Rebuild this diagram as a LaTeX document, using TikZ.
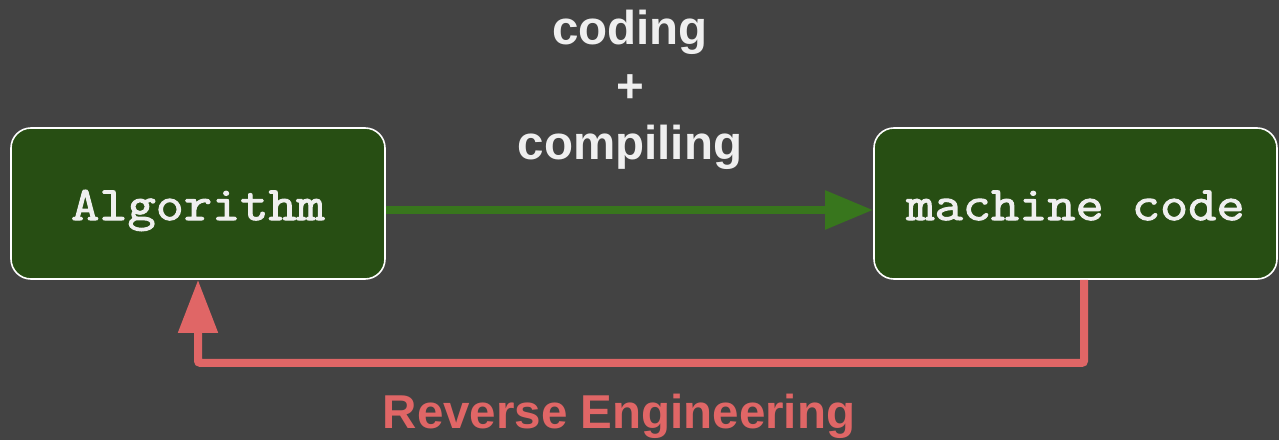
\documentclass[tikz,border=0pt]{standalone}
\usepackage{fontspec}
\setmainfont{Liberation Sans}
\newfontfamily\codefont[FakeStretch=1.14,FakeBold=2.2]{Latin Modern Mono}
\usetikzlibrary{arrows.meta, positioning}
\definecolor{bgGray}{HTML}{434343}
\definecolor{boxGreen}{HTML}{274E13}
\definecolor{lineGreen}{HTML}{38761D}
\definecolor{revRed}{HTML}{E06666}
\definecolor{lightText}{HTML}{EFEFEF}
\tikzset{
  codebox/.style={
    rectangle, rounded corners=20pt, draw=white, line width=1.6pt,
    fill=boxGreen, text=lightText, minimum height=151pt,
    text height=40pt, text depth=7pt, inner sep=0pt,
    font=\codefont\fontsize{48}{56}\selectfont
  },
  caption/.style={
    align=center, inner sep=0pt,
    font=\bfseries\fontsize{47.5}{57.5}\selectfont
  }
}

\begin{document}
\begin{tikzpicture}[
  x=1pt, y=1pt,
  fwdarrow/.style={-{Triangle[length=48pt,width=37pt]}, line width=8.5pt, color=lineGreen},
  revarrow/.style={-{Triangle[length=53pt,width=38pt]}, line width=8pt, color=revRed, rounded corners=2pt}
]
\fill[bgGray] (0,0) rectangle (1279,440);
\useasboundingbox (0,0) rectangle (1279,440);
\node[codebox, minimum width=374pt] (algo) at (198,236.5) {Algorithm};
\node[codebox, minimum width=403pt] (mc) at (1075.5,236.5) {machine code};
\node[caption, text=lightText, anchor=north] (steps) at (630,430) {coding\\+\\compiling};
\node[caption, text=revRed, anchor=base] (rev) at (619,12) {Reverse Engineering};
\draw[fwdarrow] ([yshift=-6.5pt]algo.east) -- ([yshift=-6.5pt]mc.west);
\draw[revarrow] ([xshift=8.5pt]mc.south) -- ++(0,-83) -| (algo.south);
\end{tikzpicture}
\end{document}
